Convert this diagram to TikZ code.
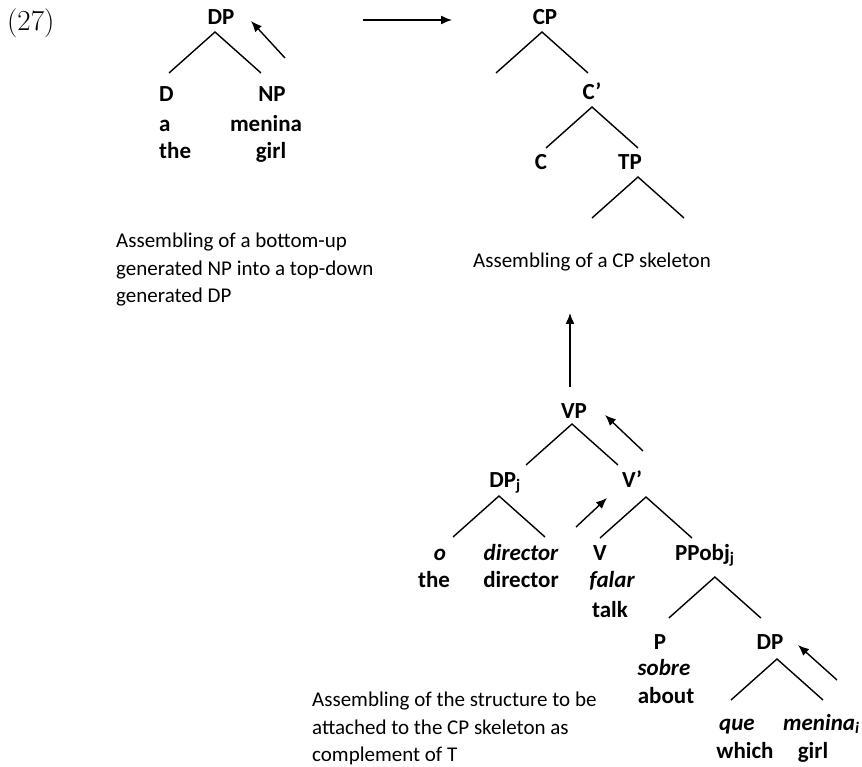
\documentclass[tikz,border=0pt]{standalone}
\usepackage{fontspec}
\setsansfont{Carlito}
\usetikzlibrary{arrows.meta}
\tikzset{
    tree-label/.style = {font=\sffamily\bfseries\fontsize{23pt}{27.5pt}\selectfont, inner sep=0pt, anchor=base},
    tree-word/.style = {tree-label, font=\sffamily\bfseries\itshape\fontsize{23pt}{27.5pt}\selectfont},
    caption-text/.style = {font=\sffamily\fontsize{21pt}{27.5pt}\selectfont, align=left, inner sep=0pt, anchor=north west},
    branch/.style = {line width=1.4pt},
    move-arrow/.style = {line width=1.4pt, -{Latex[length=11pt,width=9pt]}},
}

\begin{document}
\begin{tikzpicture}[x=1pt, y=-1pt]
\useasboundingbox (0,0) rectangle (862,767);
\node[anchor=base west, inner sep=0pt, font=\fontsize{29pt}{29pt}\selectfont] (ex-num) at (7,31) {(27)};

% DP built bottom-up
\node[tree-label] (dpa) at (221,25) {DP};
\node[tree-label, anchor=base west] (d-head) at (159,102) {D};
\node[tree-label, anchor=base west] (d-a) at (159,132) {a};
\node[tree-label, anchor=base west] (d-the) at (159,159) {the};
\node[tree-label] (np) at (272,102) {NP};
\node[tree-label] (np-menina) at (266,132) {menina};
\node[tree-label] (np-girl) at (271,159) {girl};
\node[caption-text] (cap-dp) at (116,233) {Assembling of a bottom-up\\generated NP into a top-down\\generated DP};

% CP skeleton
\node[tree-label] (cp) at (545,25) {CP};
\node[tree-label] (cbar) at (592,100) {C’};
\node[tree-label] (c-head) at (541,170) {C};
\node[tree-label] (tp) at (630,170) {TP};
\node[caption-text, anchor=base west] (cap-cp) at (473,268) {Assembling of a CP skeleton};

% VP
\node[tree-label] (vp) at (574,418) {VP};
\node[tree-label] (dpj) at (505,487) {DP\textsubscript{j}};
\node[tree-label] (vbar) at (632,487) {V’};
\node[tree-word] (o-det) at (440,560) {o};
\node[tree-word] (dir-it) at (521,560) {director};
\node[tree-label] (v-head) at (600,560) {V};
\node[tree-label, anchor=base west] (ppobj) at (675,560) {PPobj\textsubscript{j}};
\node[tree-label] (the-gl) at (434,587) {the};
\node[tree-label] (dir-gl) at (521,587) {director};
\node[tree-word] (falar) at (612,587) {falar};
\node[tree-label] (talk) at (610,617) {talk};
\node[tree-label] (p-head) at (660,649) {P};
\node[tree-word] (sobre) at (664,675) {sobre};
\node[tree-label] (about) at (666,703) {about};
\node[tree-label] (dpb) at (770,649) {DP};
\node[tree-word] (que) at (737,730) {que};
\node[tree-word, anchor=base west] (menina-i) at (783,730) {menina\textsubscript{i}};
\node[tree-label] (which) at (745,758) {which};
\node[tree-label] (girl-gl) at (813,758) {girl};
\node[caption-text] (cap-vp) at (312,692) {Assembling of the structure to be\\attached to the CP skeleton as\\complement of T};

% branches
\foreach \n/\dx/\dy in {dpa/-6/7, cp/-3/7, cbar/0/7, tp/8/7, vp/-2/6, dpj/-6/9, vbar/14/10, ppobj/10/17, dpb/7/10}{
    \coordinate (\n-top) at ([shift={(\dx pt,-\dy pt)}]\n.base);
    \coordinate (\n-l) at ([shift={(-46pt,-41pt)}]\n-top);
    \coordinate (\n-r) at ([shift={(46pt,-41pt)}]\n-top);
    \draw[branch] (\n-l) -- (\n-top) -- (\n-r);
}

% movement arrows
\coordinate (mv-np) at (285,58);   \coordinate (mv-np-end) at (251,21);
\coordinate (mv-cp) at (363,20);   \coordinate (mv-cp-end) at (452,20);
\coordinate (mv-vp) at (570,387);  \coordinate (mv-vp-end) at (570,313);
\coordinate (mv-vb) at (643,451);  \coordinate (mv-vb-end) at (605,415);
\coordinate (mv-v) at (576,527);   \coordinate (mv-v-end) at (607,498);
\coordinate (mv-dp) at (837,680);  \coordinate (mv-dp-end) at (798,645);
\foreach \m in {mv-np, mv-cp, mv-vp, mv-vb, mv-v, mv-dp}
    \draw[move-arrow] (\m) -- (\m-end);
\end{tikzpicture}
\end{document}
